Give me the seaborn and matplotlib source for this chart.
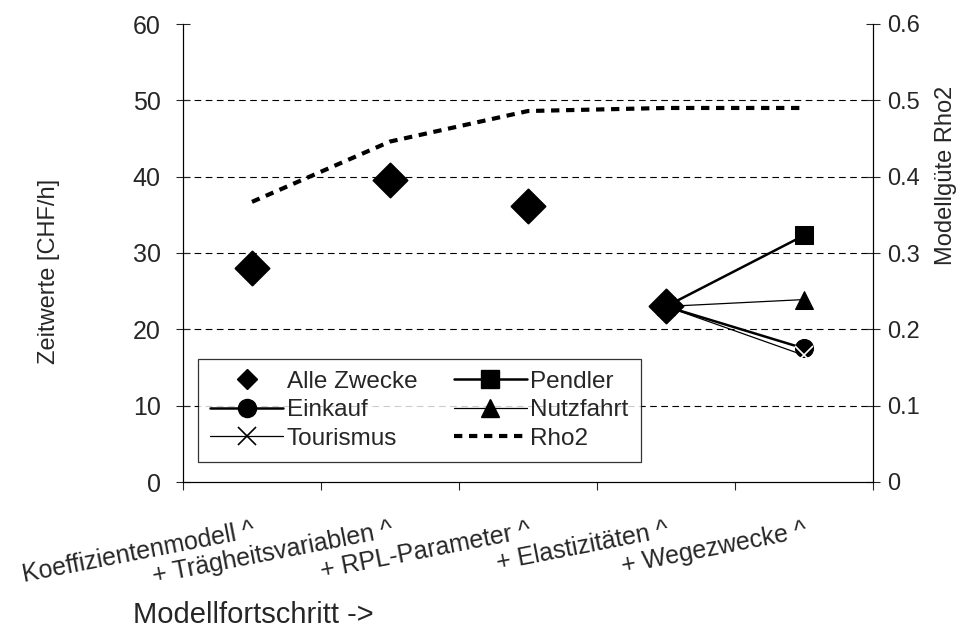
import matplotlib
matplotlib.use("Agg")
import matplotlib.pyplot as plt
from matplotlib.lines import Line2D
import seaborn as sns
import pandas as pd

# Daten
kategorien = ["Koeffizientenmodell ^", "+ Trägheitsvariablen ^", "+ RPL-Parameter ^",
              "+ Elastizitäten ^", "+ Wegezwecke ^"]
alle_zwecke = [28.0, 39.6, 36.1, 23.0]
pendler = [23.0, 32.3]
einkauf = [23.0, 17.5]
nutzfahrt = [23.0, 23.9]
tourismus = [23.0, 16.6]
rho2 = [0.367, 0.446, 0.486, 0.490, 0.490]
y_ticks_links = [0, 10, 20, 30, 40, 50, 60]
y_ticks_rechts = [0, 0.1, 0.2, 0.3, 0.4, 0.5, 0.6]

sns.set_style("white")
plt.rcParams["font.family"] = ["Liberation Sans", "DejaVu Sans"]
plt.rcParams["font.size"] = 13

pos = list(range(len(kategorien)))
df_alle = pd.DataFrame({"x": pos[:len(alle_zwecke)], "y": alle_zwecke})
pos_zweck = [3, 4]

fig = plt.figure(figsize=(9.61, 6.32), dpi=100)
ax = fig.add_axes([183 / 961, 1 - 482 / 632, 690 / 961, 458 / 632])
ax2 = ax.twinx()

# Gitterlinien
for v in y_ticks_links[1:-1]:
    ax.axhline(v, color="black", lw=0.8, ls=(0, (6, 4)), zorder=0)

sns.scatterplot(x="x", y="y", data=df_alle, marker="D", s=300, color="black",
                edgecolor="black", ax=ax, zorder=5, legend=False)
sns.lineplot(x=pos_zweck, y=pendler, color="black", lw=1.8, marker="s", markersize=13,
             markeredgecolor="black", ax=ax)
sns.lineplot(x=pos_zweck, y=einkauf, color="black", lw=1.8, marker="o", markersize=13,
             markeredgecolor="black", ax=ax)
sns.lineplot(x=pos_zweck, y=nutzfahrt, color="black", lw=0.9, marker="^", markersize=13,
             markeredgecolor="black", ax=ax)
sns.lineplot(x=pos_zweck, y=tourismus, color="black", lw=0.9, marker="x", markersize=13,
             markeredgewidth=1.2, ax=ax)
sns.lineplot(x=pos, y=rho2, color="black", lw=3, dashes=False, ax=ax2)
ax2.lines[0].set_dashes((2, 1.6))

ax.set_xlim(-0.5, 4.5)
ax.set_ylim(0, 60)
ax2.set_ylim(0, 0.6)
ax.set_yticks(y_ticks_links)
ax.set_yticklabels([str(v) for v in y_ticks_links], fontsize=18)
ax2.set_yticks(y_ticks_rechts)
ax2.set_yticklabels(["0"] + [f"{v:.1f}" for v in y_ticks_rechts[1:]], fontsize=17)

ax.set_xticks(pos)
ax.set_xticklabels(kategorien, rotation=11, ha="right", rotation_mode="anchor", fontsize=18)
ax.set_xticks([p - 0.5 for p in pos] + [4.5], minor=True)
ax.tick_params(axis="x", which="major", length=0, pad=26)
ax.tick_params(axis="x", which="minor", length=6, width=0.8, direction="out", bottom=True)
ax.tick_params(axis="y", length=10, width=0.8, direction="inout", left=True, pad=11)
ax2.tick_params(axis="y", length=10, width=0.8, direction="inout", right=True, pad=5)

for a in (ax, ax2):
    a.spines["top"].set_visible(False)
    for s in ("left", "right", "bottom"):
        a.spines[s].set_color("black")
        a.spines[s].set_linewidth(0.8)

ax.set_xlabel("Modellfortschritt ->", fontsize=21)
ax.xaxis.set_label_coords((253 - 183) / 690, -0.26)
ax.set_ylabel("Zeitwerte [CHF/h]", fontsize=17)
ax.yaxis.set_label_coords(-0.178, 0.46)
ax2.set_ylabel("Modellgüte Rho2", fontsize=17)
ax2.yaxis.set_label_coords(1.09, 0.67)

handles = [
    Line2D([], [], color="black", marker="D", ls="none", markersize=10),
    Line2D([], [], color="black", marker="o", lw=1.8, markersize=13),
    Line2D([], [], color="black", marker="x", lw=0.9, markersize=13, markeredgewidth=1.2),
    Line2D([], [], color="black", marker="s", lw=1.8, markersize=13),
    Line2D([], [], color="black", marker="^", lw=0.9, markersize=13),
    Line2D([], [], color="black", lw=3, dashes=(2, 1.6)),
]
labels = ["Alle Zwecke", "Einkauf", "Tourismus", "Pendler", "Nutzfahrt", "Rho2"]
leg = ax2.legend(handles, labels, ncol=2, loc="lower left",
                 bbox_to_anchor=((198 - 183) / 690, (482 - 462) / 458),
                 fontsize=17.5, frameon=True, fancybox=False, edgecolor="black",
                 handlelength=3, handletextpad=0.15, columnspacing=1.5,
                 labelspacing=0.27, borderpad=0.5, borderaxespad=0)
leg.get_frame().set_linewidth(0.9)

fig.savefig("out.png", dpi=100)
